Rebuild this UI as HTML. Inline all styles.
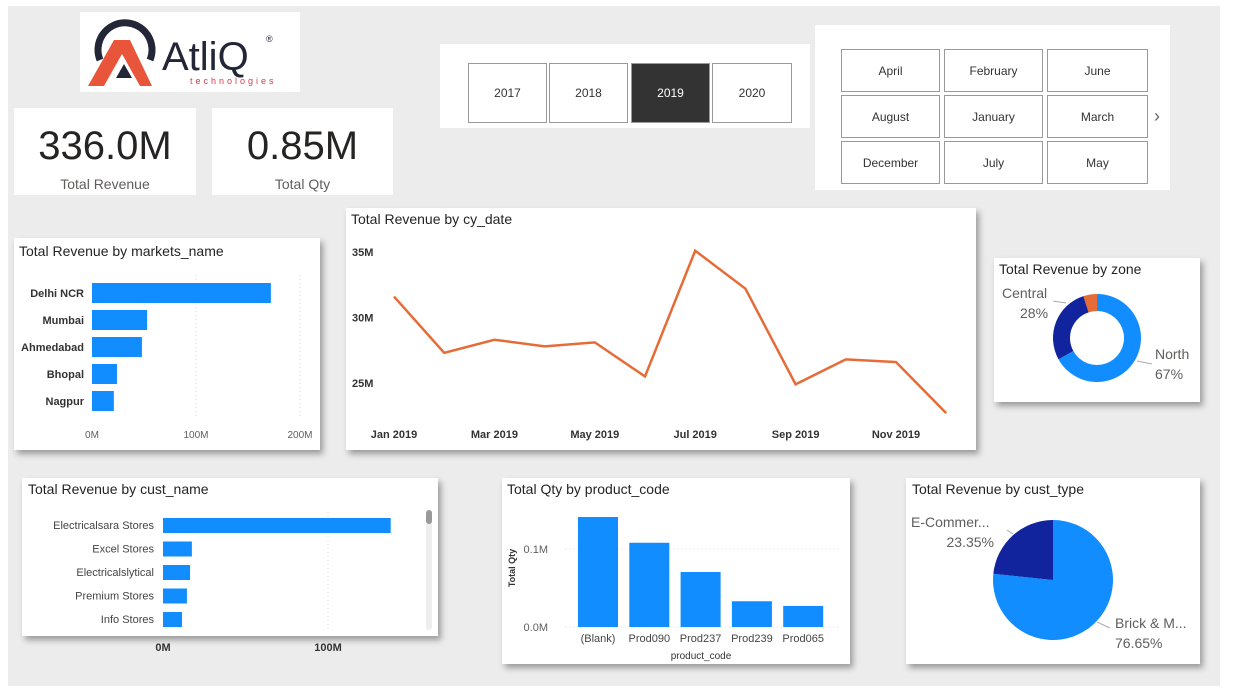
<!DOCTYPE html>
<html><head><meta charset="utf-8">
<style>
body{margin:0;width:1235px;height:688px;overflow:hidden;background:#fff;font-family:"Liberation Sans",sans-serif;}
#canvas{position:absolute;left:8px;top:6px;width:1212px;height:680px;background:#ececec;}
.p{position:absolute;background:#fff;}
.sh{box-shadow:3px 4px 6px rgba(0,0,0,0.35);}
.t{position:absolute;font-size:14px;color:#252423;}
.btn{position:absolute;border:1px solid #999;background:#fff;font-size:12px;color:#333;display:flex;align-items:center;justify-content:center;box-sizing:border-box;}
svg text{font-family:"Liberation Sans",sans-serif;}
</style></head><body>
<div id="canvas"></div>

<div class="p" style="left:80px;top:12px;width:220px;height:80px">
<svg width="220" height="80">
<path d="M20 48 A27 27 0 1 1 70 48" fill="none" stroke="#222637" stroke-width="7"/>
<polygon points="8,74 34,28 50,28 72,74 60,74 42,42 24,74" fill="#e8553a"/>
<polygon points="36,66 44,52 52,66" fill="#222637"/>
<text x="82" y="58" font-size="40" fill="#222637">AtliQ</text>
<text x="186" y="30" font-size="9" fill="#222637">®</text>
<text x="110" y="72" font-size="9" fill="#d93a4a" letter-spacing="3">technologies</text>
</svg></div>

<div class="p" style="left:14px;top:108px;width:182px;height:87px">
<div style="position:absolute;top:16px;width:100%;text-align:center;font-size:40px;color:#252423">336.0M</div>
<div style="position:absolute;top:68px;width:100%;text-align:center;font-size:14px;color:#605e5c">Total Revenue</div></div>
<div class="p" style="left:212px;top:108px;width:181px;height:87px">
<div style="position:absolute;top:16px;width:100%;text-align:center;font-size:40px;color:#252423">0.85M</div>
<div style="position:absolute;top:68px;width:100%;text-align:center;font-size:14px;color:#605e5c">Total Qty</div></div>

<div class="p" style="left:440px;top:44px;width:370px;height:84px"></div>
<div class="btn" style="left:468px;top:63px;width:79px;height:60px">2017</div>
<div class="btn" style="left:549px;top:63px;width:79px;height:60px">2018</div>
<div class="btn" style="left:631px;top:63px;width:79px;height:60px;background:#333;color:#fff">2019</div>
<div class="btn" style="left:712px;top:63px;width:80px;height:60px">2020</div>

<div class="p" style="left:815px;top:25px;width:355px;height:165px"></div>
<div class="btn" style="left:841px;top:49px;width:99px;height:43px">April</div>
<div class="btn" style="left:944px;top:49px;width:99px;height:43px">February</div>
<div class="btn" style="left:1047px;top:49px;width:101px;height:43px">June</div>
<div class="btn" style="left:841px;top:95px;width:99px;height:43px">August</div>
<div class="btn" style="left:944px;top:95px;width:99px;height:43px">January</div>
<div class="btn" style="left:1047px;top:95px;width:101px;height:43px">March</div>
<div class="btn" style="left:841px;top:141px;width:99px;height:43px">December</div>
<div class="btn" style="left:944px;top:141px;width:99px;height:43px">July</div>
<div class="btn" style="left:1047px;top:141px;width:101px;height:43px">May</div>
<div style="position:absolute;left:1154px;top:106px;font-size:18px;color:#666">›</div>

<div class="p sh" style="left:14px;top:238px;width:306px;height:212px">
<div class="t" style="left:5px;top:5px">Total Revenue by markets_name</div></div>
<div class="p sh" style="left:346px;top:208px;width:630px;height:242px">
<div class="t" style="left:5px;top:3px">Total Revenue by cy_date</div></div>
<div class="p sh" style="left:994px;top:258px;width:206px;height:144px">
<div class="t" style="left:5px;top:3px">Total Revenue by zone</div></div>
<div class="p sh" style="left:22px;top:478px;width:416px;height:158px">
<div class="t" style="left:6px;top:3px">Total Revenue by cust_name</div>
<div style="position:absolute;left:404px;top:32px;width:6px;height:120px;background:#eee;border-radius:3px"></div>
<div style="position:absolute;left:404px;top:32px;width:6px;height:14px;background:#999;border-radius:3px"></div></div>
<div class="p sh" style="left:502px;top:478px;width:348px;height:186px">
<div class="t" style="left:5px;top:3px">Total Qty by product_code</div></div>
<div class="p sh" style="left:906px;top:478px;width:294px;height:186px">
<div class="t" style="left:6px;top:3px">Total Revenue by cust_type</div></div>

<svg id="ov" width="1235" height="688" style="position:absolute;left:0;top:0"></svg>

<script>
const marketNames=["Delhi NCR","Mumbai","Ahmedabad","Bhopal","Nagpur"];
const marketRevenue=[172,53,48,24,21];
const marketTicks=[0,100,200];
const months=["Jan 2019","Feb 2019","Mar 2019","Apr 2019","May 2019","Jun 2019","Jul 2019","Aug 2019","Sep 2019","Oct 2019","Nov 2019","Dec 2019"];
const monthlyRevenue=[31.6,27.3,28.3,27.8,28.1,25.5,35.1,32.2,24.9,26.8,26.6,22.7];
const lineTicks=[25,30,35];
const zoneNames=["North","Central","South"];
const zoneShare=[67,28,5];
const custNames=["Electricalsara Stores","Excel Stores","Electricalslytical","Premium Stores","Info Stores"];
const custRevenue=[138,17.5,16.4,14.5,11.5];
const custTicks=[0,100];
const products=["(Blank)","Prod090","Prod237","Prod239","Prod065"];
const productQty=[0.141,0.108,0.0705,0.033,0.027];
const qtyTicks=[0,0.1];
const custTypes=["Brick & M...","E-Commer..."];
const custTypeShare=[76.65,23.35];

const S="http://www.w3.org/2000/svg",ov=document.getElementById('ov');
function el(tag,attrs,txt){const e=document.createElementNS(S,tag);for(const k in attrs)e.setAttribute(k,attrs[k]);if(txt!==undefined)e.textContent=txt;ov.appendChild(e);return e;}
const BLUE="#118DFF",DARK="#12239E",ORG="#E66C37";

// markets
const mx=v=>92+v*1.04, my=i=>293+i*27;
marketTicks.forEach(t=>{if(t>0){const g=el('line',{x1:mx(t),x2:mx(t),y1:275,y2:418,stroke:'#ddd','stroke-dasharray':'1,3'});}
const l=el('text',{x:mx(t),y:438,'font-size':10,fill:'#605e5c','text-anchor':'middle'},t+'M');});
marketNames.forEach((n,i)=>{const b=el('rect',{x:mx(0),y:my(i)-10,width:mx(marketRevenue[i])-mx(0),height:20,fill:BLUE});

const l=el('text',{x:84,y:my(i)+4,'font-size':11,'font-weight':'bold',fill:'#333','text-anchor':'end'},n);});

// line
const lx=i=>394+i*50.2, ly=v=>252+(35-v)*13.1;
lineTicks.forEach(t=>{const l=el('text',{x:352,y:ly(t)+4,'font-size':11,'font-weight':'bold',fill:'#333'},t+'M');});
months.forEach((m,i)=>{if(i%2==0){const l=el('text',{x:lx(i),y:438,'font-size':11,'font-weight':'bold',fill:'#333','text-anchor':'middle'},m);}});
const pl=el('polyline',{points:monthlyRevenue.map((v,i)=>lx(i)+','+ly(v)).join(' '),fill:'none',stroke:ORG,'stroke-width':2.5});


// donut
function arcPath(cx,cy,r,ri,a0,a1){const p=a=>[cx+Math.sin(a)*1,cy-Math.cos(a)*1];const f=(rr,a)=>(cx+rr*Math.sin(a))+' '+(cy-rr*Math.cos(a));const big=(a1-a0)>Math.PI?1:0;
if(ri>0)return 'M'+f(r,a0)+' A'+r+' '+r+' 0 '+big+' 1 '+f(r,a1)+' L'+f(ri,a1)+' A'+ri+' '+ri+' 0 '+big+' 0 '+f(ri,a0)+'Z';
return 'M'+cx+' '+cy+' L'+f(r,a0)+' A'+r+' '+r+' 0 '+big+' 1 '+f(r,a1)+'Z';}
let a=0;const zc=[BLUE,DARK,ORG],zt=zoneShare.reduce((s,v)=>s+v,0);
zoneShare.forEach((v,i)=>{const a1=a+v/zt*2*Math.PI;const p=el('path',{d:arcPath(1097,338,44,27,a,a1),fill:zc[i]});a=a1;});
[['Central',1002,298,'start'],[zoneShare[1]+'%',1020,318,'start'],['North',1155,359,'start'],[zoneShare[0]+'%',1155,379,'start']].forEach(d=>{const l=el('text',{x:d[1],y:d[2],'font-size':14,fill:'#605e5c','text-anchor':d[3]},d[0]);});
el('polyline',{points:'1053,301 1066,303',fill:'none',stroke:'#aaa'});el('polyline',{points:'1137,361 1152,364',fill:'none',stroke:'#aaa'});

// cust name
const cx_=v=>163+v*1.65, cy_=i=>525+i*23.5;
custTicks.forEach(t=>{if(t>0)el('line',{x1:cx_(t),x2:cx_(t),y1:512,y2:630,stroke:'#ddd','stroke-dasharray':'1,3'});
const l=el('text',{x:cx_(t),y:651,'font-size':11,'font-weight':'bold',fill:'#333','text-anchor':'middle'},t+'M');});
custNames.forEach((n,i)=>{const b=el('rect',{x:cx_(0),y:cy_(i)-7,width:cx_(custRevenue[i])-cx_(0),height:15,fill:BLUE});
const l=el('text',{x:154,y:cy_(i)+4,'font-size':11,fill:'#444','text-anchor':'end'},n);});

// product
const py=v=>627-v*780, px=i=>578+i*51.3;
qtyTicks.forEach(t=>{el('line',{x1:565,x2:840,y1:py(t),y2:py(t),stroke:'#ddd','stroke-dasharray':'1,3'});
const l=el('text',{x:548,y:py(t)+4,'font-size':11,fill:'#605e5c','text-anchor':'end'},t.toFixed(1)+'M');});
products.forEach((p,i)=>{const b=el('rect',{x:px(i),y:py(productQty[i]),width:40,height:py(0)-py(productQty[i]),fill:BLUE});
const l=el('text',{x:px(i)+20,y:642,'font-size':11,fill:'#444','text-anchor':'middle'},p);});
let xt=el('text',{x:701,y:659,'font-size':10,fill:'#333','text-anchor':'middle'},'product_code');
let yt=el('text',{x:515,y:568,'font-size':9,'font-weight':'bold',fill:'#333','text-anchor':'middle',transform:'rotate(-90 515 568)'},'Total Qty');

// cust type pie
a=0;const pc=[BLUE,DARK],pt=custTypeShare.reduce((s,v)=>s+v,0);
custTypeShare.forEach((v,i)=>{const a1=a+v/pt*2*Math.PI;const p=el('path',{d:arcPath(1053,580,60,0,a,a1),fill:pc[i]});a=a1;});
[['E-Commer...',911,527,'start'],[custTypeShare[1].toFixed(2)+'%',994,547,'end'],['Brick & M...',1115,628,'start'],[custTypeShare[0].toFixed(2)+'%',1115,648,'start']].forEach(d=>{const l=el('text',{x:d[1],y:d[2],'font-size':14,fill:'#605e5c','text-anchor':d[3]},d[0]);});
el('polyline',{points:'1007,530 1013,534',fill:'none',stroke:'#aaa'});el('polyline',{points:'1097,622 1110,628',fill:'none',stroke:'#aaa'});
</script>
</body></html>
